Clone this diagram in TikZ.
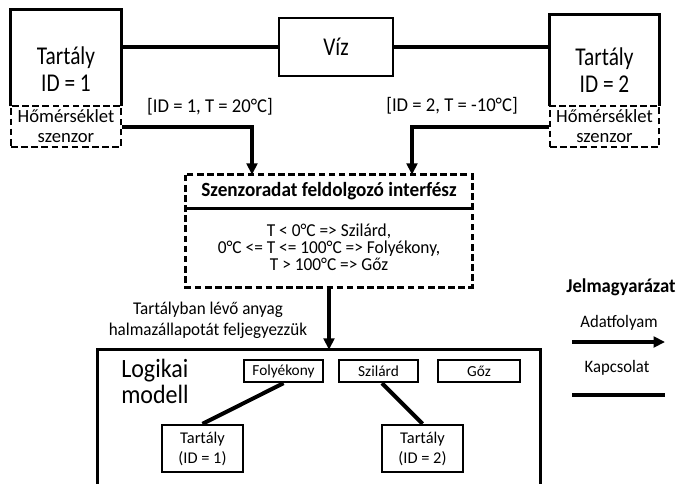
\documentclass[tikz,border=0pt]{standalone}
\usepackage{fontspec}
\setmainfont{Carlito}
\usetikzlibrary{arrows.meta,calc}
\newcommand\setfs[2]{\fontsize{#1}{#2}\selectfont}
\begin{document}
\begin{tikzpicture}[x=0.75pt,y=-0.75pt]
\tikzset{
  plain/.style={inner sep=0pt, align=center},
  tall/.style={yscale=#1, transform shape},
  solidbox/.style={draw, line width=1.8pt, inner sep=0pt, align=center},
  dashbox/.style={draw, line width=2.2pt, dash pattern=on 5pt off 2.6pt, inner sep=0pt, align=center},
  dashline/.style={line width=2.2pt, dash pattern=on 5pt off 2.6pt},
  frame/.style={line width=2.1pt},
  link/.style={line width=3pt},
  flow/.style={line width=3pt, -{Triangle[length=8.5pt,width=8pt]}},
}
\useasboundingbox (0,0) rectangle (678,483);
\clip (0,0) rectangle (678,483);

% tanks with their sensors
\node[plain, minimum width=82.5pt, minimum height=72pt] (tank1) at (66,58) {};
\draw[frame] (tank1.south west) -- (tank1.north west) -- (tank1.north east) -- (tank1.south east);
\node[plain, tall=1.2, font=\setfs{16}{16.9}] (tank1lbl) at (66,69) {Tartály\\ID = 1};
\node[dashbox, minimum width=82.5pt, minimum height=30.75pt, font=\setfs{14}{15}] (sens1) at (66,126.5) {Hőmérséklet\\szenzor};

\node[plain, minimum width=81.75pt, minimum height=68.25pt] (tank2) at (604.5,60.5) {};
\draw[frame] (tank2.south west) -- (tank2.north west) -- (tank2.north east) -- (tank2.south east);
\node[plain, tall=1.2, font=\setfs{16}{16.9}] (tank2lbl) at (604.5,70) {Tartály\\ID = 2};
\node[dashbox, minimum width=81.75pt, minimum height=30.75pt, font=\setfs{14}{15}] (sens2) at (604.5,126.5) {Hőmérséklet\\szenzor};

% water between the tanks
\node[solidbox, line width=2pt, minimum width=85.5pt, minimum height=43.5pt] (viz) at (336,47) {};
\node[plain, tall=1.2, font=\setfs{16}{19}] (vizlbl) at (viz.center) {Víz};
\draw[link] (viz.west) -- (viz.west -| tank1.east);
\draw[link] (viz.east) -- (viz.east -| tank2.west);

% sensor readings
\node[plain, tall=1.05, font=\setfs{14}{16}] (lab1) at (210,106.5) {[ID = 1, T = 20°C]};
\node[plain, tall=1.05, font=\setfs{14}{16}] (lab2) at (452,105.5) {[ID = 2, T = -10°C]};

% processing interface
\node[plain, minimum width=214.5pt, minimum height=24.75pt] (ifhead) at (329,191.5) {};
\node[plain, tall=1.05, font=\bfseries\setfs{14.4}{17}] (ifheadlbl) at (ifhead.center) {Szenzoradat feldolgozó interfész};
\node[plain, minimum width=214.5pt, minimum height=59.25pt] (ifbody) at (329,247.5) {};
\node[plain, tall=1.05, font=\setfs{13}{12.2}] (ifbodylbl) at (ifbody.center) {T < 0°C => Szilárd,\\0°C <= T <= 100°C => Folyékony,\\T > 100°C => Gőz};
\draw[dashline] (ifhead.north west) rectangle (ifbody.south east);
\draw[line width=2.2pt] (ifhead.south west) -- (ifhead.south east);

\coordinate (in1) at (252,0);
\coordinate (in2) at (412,0);
\draw[flow] (sens1.east) -| (in1 |- ifhead.north);
\draw[flow] (sens2.west) -| (in2 |- ifhead.north);

% logical model
\node[plain, minimum width=331.5pt, minimum height=105pt] (model) at (319,420) {};
\draw[frame] (model.south west) -- (model.north west) -- (model.north east) -- (model.south east);
\draw[flow] (ifbody.south) -- (ifbody.south |- model.north);
\node[plain, tall=1.05, font=\setfs{12.8}{14.8}] (note) at (208,320.5) {Tartályban lévő anyag\\halmazállapotát feljegyezzük};

\node[plain, tall=1.1, anchor=west, align=left, font=\setfs{18}{17.3}] (modellbl) at (121,381.5) {Logikai\\modell};

\node[solidbox, minimum width=59.25pt, minimum height=16.5pt, font=\setfs{11.5}{13}] (folyekony) at (283.5,371) {Folyékony};
\node[solidbox, minimum width=59.25pt, minimum height=16.5pt, font=\setfs{11.5}{13}] (szilard) at (378.5,371) {Szilárd};
\node[solidbox, minimum width=61.5pt, minimum height=16.5pt, font=\setfs{11.5}{13}] (goz) at (479,371) {Gőz};

\node[solidbox, minimum width=60.75pt, minimum height=35.25pt, font=\setfs{12.3}{15}] (st1) at (202.5,448.5) {Tartály\\(ID = 1)};
\node[solidbox, minimum width=60.75pt, minimum height=35.25pt, font=\setfs{12.3}{15}] (st2) at (422.5,448.5) {Tartály\\(ID = 2)};

\draw[link] (folyekony.south) -- (st1.north);
\draw[link] ([xshift=2.6pt]szilard.south) -- (st2.north);

% legend
\node[plain, tall=1.05, font=\bfseries\setfs{14}{16}] (legend) at (621,287) {Jelmagyarázat};
\node[plain, tall=1.05, font=\setfs{12.5}{14}] (lgflow) at (619,323) {Adatfolyam};
\coordinate (fa) at (572,342);
\coordinate (fb) at (665,342);
\draw[flow] (fa) -- (fb);
\node[plain, tall=1.05, font=\setfs{12.5}{14}] (lglink) at (617,368) {Kapcsolat};
\coordinate (la) at (572,395);
\coordinate (lb) at (665,395);
\draw[link] (la) -- (lb);
\end{tikzpicture}
\end{document}
